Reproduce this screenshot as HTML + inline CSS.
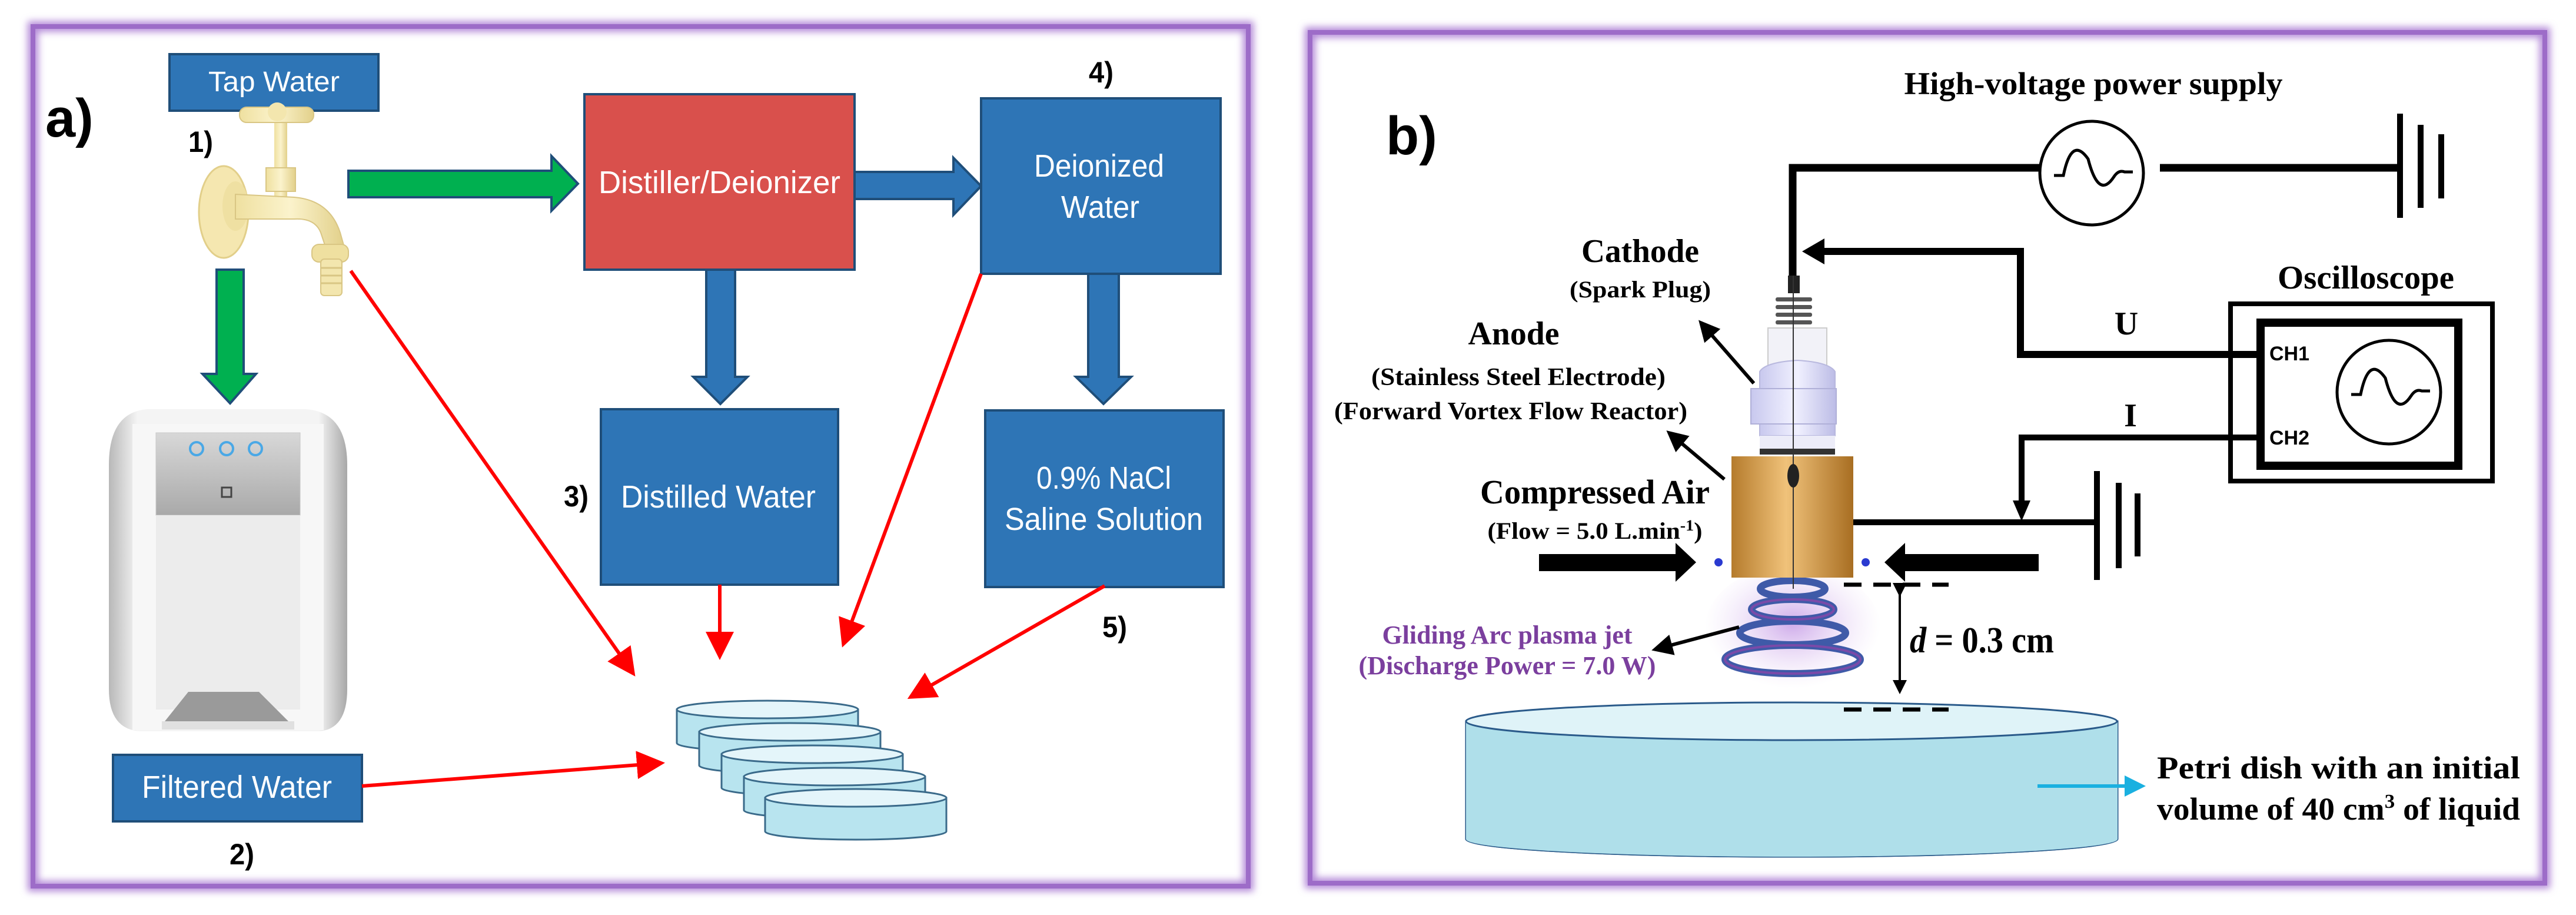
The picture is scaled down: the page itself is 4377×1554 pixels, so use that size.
<!DOCTYPE html>
<html><head><meta charset="utf-8"><style>
html,body{margin:0;padding:0;background:#fff}
svg{display:block}
</style></head><body>
<svg width="4377" height="1554" viewBox="0 0 4377 1554" xmlns="http://www.w3.org/2000/svg">
<defs>
<filter id="glow" x="-5%" y="-5%" width="110%" height="110%"><feGaussianBlur stdDeviation="6"/></filter>
<radialGradient id="plasma" cx="50%" cy="45%" r="50%"><stop offset="0" stop-color="#c9a2e8" stop-opacity="0.9"/><stop offset="1" stop-color="#e8d6f5" stop-opacity="0"/></radialGradient>
<linearGradient id="bronze" x1="0" x2="1"><stop offset="0" stop-color="#b57b2c"/><stop offset="0.45" stop-color="#f0c27a"/><stop offset="1" stop-color="#a86e22"/></linearGradient>
<linearGradient id="brass" x1="0" x2="1"><stop offset="0" stop-color="#efe0a0"/><stop offset="0.5" stop-color="#fbf3cc"/><stop offset="1" stop-color="#e2d08a"/></linearGradient>
<linearGradient id="lav" x1="0" x2="1"><stop offset="0" stop-color="#c8c8ee"/><stop offset="0.5" stop-color="#f1f1ff"/><stop offset="1" stop-color="#bcbce6"/></linearGradient>
<linearGradient id="filt" x1="0" x2="1"><stop offset="0" stop-color="#b8b8b8"/><stop offset="0.12" stop-color="#f4f4f4"/><stop offset="0.88" stop-color="#f4f4f4"/><stop offset="1" stop-color="#a8a8a8"/></linearGradient>
<linearGradient id="silver" x1="0" y1="0" x2="0" y2="1"><stop offset="0" stop-color="#d8d8d8"/><stop offset="1" stop-color="#a9a9a9"/></linearGradient>
<marker id="ra" markerWidth="8" markerHeight="8" refX="7" refY="4" orient="auto" markerUnits="strokeWidth"><path d="M0,0 L8,4 L0,8 Z" fill="#ff0000"/></marker>
<marker id="ka" markerWidth="6" markerHeight="6" refX="5" refY="3" orient="auto" markerUnits="strokeWidth"><path d="M0,0 L6,3 L0,6 Z" fill="#000"/></marker>
<marker id="ca" markerWidth="6" markerHeight="6" refX="5" refY="3" orient="auto" markerUnits="strokeWidth"><path d="M0,0 L6,3 L0,6 Z" fill="#1ab0e0"/></marker>
</defs>

<!-- Panel borders -->
<rect x="56" y="45" width="2065" height="1460" fill="none" stroke="#b48ad8" stroke-width="18" filter="url(#glow)"/>
<rect x="56" y="45" width="2065" height="1460" fill="none" stroke="#9d6cc8" stroke-width="8"/>
<rect x="2226" y="55" width="2098" height="1445" fill="none" stroke="#b48ad8" stroke-width="18" filter="url(#glow)"/>
<rect x="2226" y="55" width="2098" height="1445" fill="none" stroke="#9d6cc8" stroke-width="8"/>

<!-- ===== LEFT PANEL ===== -->
<g font-family="Liberation Sans, sans-serif">
<text x="77" y="232" font-size="92" font-weight="bold">a)</text>

<rect x="288" y="92" width="355" height="96" fill="#2e75b6" stroke="#1f4e79" stroke-width="4"/>
<text x="354" y="155" font-size="48" fill="#fff" textLength="223" lengthAdjust="spacingAndGlyphs">Tap Water</text>
<text x="320" y="258" font-size="50" font-weight="bold" textLength="42" lengthAdjust="spacingAndGlyphs">1)</text>

<!-- faucet -->
<g>
<rect x="466" y="190" width="22" height="160" fill="url(#brass)"/>
<rect x="407" y="182" width="126" height="26" rx="12" fill="url(#brass)" stroke="#d9c684" stroke-width="2"/>
<circle cx="471" cy="190" r="16" fill="#f3e6ae"/>
<rect x="452" y="285" width="50" height="40" fill="url(#brass)" stroke="#d9c684" stroke-width="2"/>
<ellipse cx="380" cy="360" rx="42" ry="78" fill="#f5e7b0" stroke="#e2cf8a" stroke-width="3"/>
<ellipse cx="400" cy="350" rx="22" ry="42" fill="#efe0a2"/>
<path d="M400,330 L500,335 Q560,340 578,395 L585,420 L555,425 L545,395 Q535,370 500,372 L400,372 Z" fill="url(#brass)" stroke="#d9c684" stroke-width="2"/>
<rect x="530" y="415" width="62" height="30" rx="12" fill="#efe0a0" stroke="#d9c684" stroke-width="2"/>
<rect x="545" y="440" width="36" height="62" rx="6" fill="#f3e6ae" stroke="#d9c684" stroke-width="2"/>
<path d="M545,455 H581 M545,468 H581 M545,481 H581" stroke="#d9c684" stroke-width="3"/>
</g>

<!-- green arrows -->
<path d="M592,290 H937 V265 L982,312 L937,358 V335 H592 Z" fill="#00b050" stroke="#1f4e79" stroke-width="4"/>
<path d="M368,458 H414 V635 H435 L391,685 L344,635 H368 Z" fill="#00b050" stroke="#1f4e79" stroke-width="4"/>

<!-- distiller -->
<rect x="993" y="160" width="459" height="298" fill="#d9504c" stroke="#1f4e79" stroke-width="4"/>
<text x="1017" y="328" font-size="54" fill="#fff" textLength="411" lengthAdjust="spacingAndGlyphs">Distiller/Deionizer</text>

<!-- blue arrows -->
<path d="M1452,292 H1620 V268 L1667,316 L1620,365 V338 H1452 Z" fill="#2e75b6" stroke="#1f4e79" stroke-width="4"/>
<path d="M1200,458 H1249 V640 H1270 L1224,686 L1178,640 H1200 Z" fill="#2e75b6" stroke="#1f4e79" stroke-width="4"/>
<path d="M1849,465 H1901 V640 H1922 L1875,686 L1828,640 H1849 Z" fill="#2e75b6" stroke="#1f4e79" stroke-width="4"/>

<!-- deionized -->
<rect x="1667" y="167" width="407" height="298" fill="#2e75b6" stroke="#1f4e79" stroke-width="4"/>
<text x="1757" y="300" font-size="54" fill="#fff" textLength="221" lengthAdjust="spacingAndGlyphs">Deionized</text>
<text x="1803" y="370" font-size="54" fill="#fff" textLength="133" lengthAdjust="spacingAndGlyphs">Water</text>
<text x="1850" y="140" font-size="50" font-weight="bold" textLength="42" lengthAdjust="spacingAndGlyphs">4)</text>

<!-- distilled -->
<rect x="1021" y="695" width="403" height="298" fill="#2e75b6" stroke="#1f4e79" stroke-width="4"/>
<text x="1055" y="862" font-size="54" fill="#fff" textLength="331" lengthAdjust="spacingAndGlyphs">Distilled Water</text>
<text x="958" y="860" font-size="50" font-weight="bold" textLength="42" lengthAdjust="spacingAndGlyphs">3)</text>

<!-- NaCl -->
<rect x="1674" y="697" width="405" height="300" fill="#2e75b6" stroke="#1f4e79" stroke-width="4"/>
<text x="1761" y="830" font-size="54" fill="#fff" textLength="229" lengthAdjust="spacingAndGlyphs">0.9% NaCl</text>
<text x="1707" y="900" font-size="54" fill="#fff" textLength="337" lengthAdjust="spacingAndGlyphs">Saline Solution</text>
<text x="1873" y="1082" font-size="50" font-weight="bold" textLength="42" lengthAdjust="spacingAndGlyphs">5)</text>

<!-- water filter -->
<g>
<path d="M250,695 H520 Q590,700 590,790 V1170 Q590,1240 540,1242 H240 Q185,1240 185,1170 V790 Q185,700 250,695 Z" fill="url(#filt)"/>
<rect x="225" y="720" width="325" height="520" fill="#f7f7f7"/>
<rect x="265" y="735" width="245" height="140" fill="url(#silver)" stroke="#c8c8c8"/>
<circle cx="334" cy="762" r="11" fill="none" stroke="#4aa8e6" stroke-width="4"/>
<circle cx="385" cy="762" r="11" fill="none" stroke="#4aa8e6" stroke-width="4"/>
<circle cx="434" cy="762" r="11" fill="none" stroke="#4aa8e6" stroke-width="4"/>
<rect x="377" y="828" width="16" height="16" fill="none" stroke="#444" stroke-width="3"/>
<rect x="265" y="875" width="245" height="330" fill="#ececec"/>
<path d="M280,1225 L320,1175 H440 L490,1225 Z" fill="#9a9a9a"/>
<rect x="275" y="1225" width="225" height="14" fill="#e0e0e0"/>
</g>

<rect x="192" y="1282" width="423" height="113" fill="#2e75b6" stroke="#1f4e79" stroke-width="4"/>
<text x="241" y="1355" font-size="54" fill="#fff" textLength="323" lengthAdjust="spacingAndGlyphs">Filtered Water</text>
<text x="390" y="1468" font-size="50" font-weight="bold" textLength="42" lengthAdjust="spacingAndGlyphs">2)</text>

<!-- petri stack -->
<g stroke="#3a6a8a" stroke-width="3" fill="#b8e4ef">
<g transform="translate(0,0)"><path d="M1150,1205 V1262 A154,14 0 0 0 1458,1262 V1205 Z"/><ellipse cx="1304" cy="1205" rx="154" ry="15" fill="#e4f5fa"/></g>
<g transform="translate(38,38)"><path d="M1150,1205 V1262 A154,14 0 0 0 1458,1262 V1205 Z"/><ellipse cx="1304" cy="1205" rx="154" ry="15" fill="#e4f5fa"/></g>
<g transform="translate(76,76)"><path d="M1150,1205 V1262 A154,14 0 0 0 1458,1262 V1205 Z"/><ellipse cx="1304" cy="1205" rx="154" ry="15" fill="#e4f5fa"/></g>
<g transform="translate(114,114)"><path d="M1150,1205 V1262 A154,14 0 0 0 1458,1262 V1205 Z"/><ellipse cx="1304" cy="1205" rx="154" ry="15" fill="#e4f5fa"/></g>
<g transform="translate(150,150)"><path d="M1150,1205 V1262 A154,14 0 0 0 1458,1262 V1205 Z"/><ellipse cx="1304" cy="1205" rx="154" ry="15" fill="#e4f5fa"/></g>
</g>

<!-- red arrows -->
<g stroke="#ff0000" stroke-width="6" fill="none" marker-end="url(#ra)">
<line x1="596" y1="460" x2="1076" y2="1144"/>
<line x1="1223" y1="993" x2="1223" y2="1115"/>
<line x1="1667" y1="465" x2="1433" y2="1094"/>
<line x1="1877" y1="995" x2="1547" y2="1184"/>
<line x1="615" y1="1335" x2="1124" y2="1296"/>
</g>
</g>

<!-- ===== RIGHT PANEL ===== -->
<g font-family="Liberation Serif, serif" font-weight="bold">
<text x="2355" y="262" font-size="92" font-family="Liberation Sans, sans-serif">b)</text>
<text x="3557" y="160" font-size="54" text-anchor="middle" textLength="643" lengthAdjust="spacingAndGlyphs">High-voltage power supply</text>

<g stroke="#000" fill="none">
<!-- top circuit -->
<polyline points="3466,285 3046,285 3046,468" stroke-width="13"/>
<circle cx="3554" cy="294" r="88" stroke-width="5"/>
<path d="M3490,298 H3506 Q3520,230 3548,270 Q3566,340 3592,300 Q3600,288 3610,292 H3624" stroke-width="5"/>
<line x1="3670" y1="285" x2="4078" y2="285" stroke-width="13"/>
<line x1="4078" y1="193" x2="4078" y2="370" stroke-width="10"/>
<line x1="4113" y1="212" x2="4113" y2="353" stroke-width="10"/>
<line x1="4148" y1="228" x2="4148" y2="337" stroke-width="10"/>
<!-- U line -->
<polyline points="3841,602 3433,602 3433,427 3090,427" stroke-width="12"/>
<!-- I line -->
<polyline points="3841,743 3435,743 3435,860" stroke-width="10"/>
<!-- oscilloscope -->
<rect x="3790" y="516" width="445" height="301" stroke-width="8"/>
<rect x="3841" y="548" width="336" height="243" stroke-width="14"/>
<circle cx="4059" cy="666" r="88" stroke-width="5"/>
<path d="M3995,670 H4011 Q4025,602 4053,642 Q4071,712 4097,672 Q4105,660 4115,664 H4129" stroke-width="5"/>
<!-- lower ground -->
<line x1="3149" y1="887" x2="3563" y2="887" stroke-width="10"/>
<line x1="3563" y1="800" x2="3563" y2="985" stroke-width="10"/>
<line x1="3600" y1="820" x2="3600" y2="965" stroke-width="10"/>
<line x1="3632" y1="838" x2="3632" y2="945" stroke-width="10"/>
</g>
<path d="M3062,427 L3100,405 L3100,449 Z" fill="#000"/>
<path d="M3435,885 L3420,850 L3450,850 Z" fill="#000"/>

<text x="4020" y="490" font-size="56" text-anchor="middle" textLength="300" lengthAdjust="spacingAndGlyphs">Oscilloscope</text>
<text x="3613" y="568" font-size="56" text-anchor="middle">U</text>
<text x="3620" y="724" font-size="56" text-anchor="middle">I</text>
<text x="3856" y="612" font-size="34" font-family="Liberation Sans, sans-serif">CH1</text>
<text x="3856" y="755" font-size="34" font-family="Liberation Sans, sans-serif">CH2</text>

<!-- plasma glow + coil -->
<ellipse cx="3046" cy="1070" rx="150" ry="110" fill="url(#plasma)"/>
<g fill="none" stroke="#3f5aa8" stroke-width="12">
<ellipse cx="3046" cy="1000" rx="55" ry="14"/>
<ellipse cx="3046" cy="1035" rx="70" ry="17"/>
<ellipse cx="3046" cy="1075" rx="90" ry="20"/>
<ellipse cx="3046" cy="1120" rx="115" ry="24"/>
</g>
<g fill="none" stroke="#7a4aa8" stroke-width="4">
<ellipse cx="3046" cy="1035" rx="70" ry="17"/>
<ellipse cx="3046" cy="1120" rx="115" ry="24"/>
</g>

<!-- spark plug -->
<rect x="3004" y="557" width="100" height="80" fill="#f2f2f8" stroke="#ccc" stroke-width="2"/>
<g fill="#555">
<rect x="3017" y="505" width="62" height="7" rx="3"/><rect x="3017" y="518" width="62" height="7" rx="3"/><rect x="3017" y="531" width="62" height="7" rx="3"/><rect x="3017" y="544" width="62" height="7" rx="3"/>
</g>
<rect x="3038" y="468" width="20" height="30" fill="#222"/>
<path d="M2990,631 Q3000,615 3054,612 Q3108,615 3118,631 V740 H2990 Z" fill="url(#lav)" stroke="#b8b8de" stroke-width="2"/>
<rect x="2975" y="660" width="145" height="60" fill="url(#lav)" stroke="#b0b0d8" stroke-width="2"/>
<rect x="2990" y="740" width="128" height="32" fill="#ececf8"/>
<rect x="2990" y="762" width="128" height="10" fill="#333"/>
<rect x="2942" y="775" width="207" height="206" fill="url(#bronze)"/>
<line x1="3047" y1="468" x2="3047" y2="1000" stroke="#333" stroke-width="2"/>
<ellipse cx="3047" cy="808" rx="10" ry="20" fill="#222"/>
<circle cx="2920" cy="955" r="7" fill="#2a3ad0"/><circle cx="3170" cy="955" r="7" fill="#2a3ad0"/>

<!-- air arrows -->
<path d="M2615,941 H2847 V922 L2882,955 L2847,988 V970 H2615 Z" fill="#000"/>
<path d="M3464,941 H3237 V922 L3202,955 L3237,988 V970 H3464 Z" fill="#000"/>

<!-- label arrows -->
<g stroke="#000" stroke-width="6" marker-end="url(#ka)" fill="none">
<line x1="2980" y1="651" x2="2890" y2="548"/>
<line x1="2930" y1="814" x2="2836" y2="735"/>
<line x1="2955" y1="1065" x2="2812" y2="1103"/>
</g>

<!-- labels -->
<text x="2787" y="445" font-size="56" text-anchor="middle" textLength="200" lengthAdjust="spacingAndGlyphs">Cathode</text>
<text x="2787" y="505" font-size="40" text-anchor="middle" textLength="240" lengthAdjust="spacingAndGlyphs">(Spark Plug)</text>
<text x="2572" y="585" font-size="56" text-anchor="middle" textLength="155" lengthAdjust="spacingAndGlyphs">Anode</text>
<text x="2580" y="654" font-size="42" text-anchor="middle" textLength="500" lengthAdjust="spacingAndGlyphs">(Stainless Steel Electrode)</text>
<text x="2567" y="712" font-size="42" text-anchor="middle" textLength="600" lengthAdjust="spacingAndGlyphs">(Forward Vortex Flow Reactor)</text>
<text x="2710" y="855" font-size="58" text-anchor="middle" textLength="390" lengthAdjust="spacingAndGlyphs">Compressed Air</text>
<text x="2710" y="915" font-size="40" text-anchor="middle" textLength="365" lengthAdjust="spacingAndGlyphs">(Flow = 5.0 L.min<tspan font-size="26" dy="-14">-1</tspan><tspan dy="14">)</tspan></text>
<text x="2561" y="1093" font-size="44" text-anchor="middle" fill="#7b3f9e" textLength="425" lengthAdjust="spacingAndGlyphs">Gliding Arc plasma jet</text>
<text x="2561" y="1145" font-size="44" text-anchor="middle" fill="#7b3f9e" textLength="505" lengthAdjust="spacingAndGlyphs">(Discharge Power = 7.0 W)</text>

<!-- petri dish -->
<path d="M2491,1225 V1425 A553,30 0 0 0 3598,1425 V1225 Z" fill="#afdfea" stroke="#2a5a8a" stroke-width="3"/>
<ellipse cx="3044" cy="1425" rx="553" ry="30" fill="#7ccde0" stroke="#2a5a8a" stroke-width="3"/>
<path d="M2491,1225 V1425 A553,30 0 0 0 3598,1425 V1225 Z" fill="#afdfea" stroke="none"/>
<ellipse cx="3044" cy="1225" rx="553" ry="32" fill="#dff3f8" stroke="#2a5a8a" stroke-width="3"/>

<!-- dashed + distance -->
<g stroke="#000" stroke-width="7" stroke-dasharray="30,20">
<line x1="3133" y1="993" x2="3311" y2="993"/>
<line x1="3133" y1="1205" x2="3311" y2="1205"/>
</g>
<line x1="3228" y1="1010" x2="3228" y2="1175" stroke="#000" stroke-width="4" marker-start="url(#ka)" marker-end="url(#ka)"/>
<text x="3245" y="1108" font-size="62" textLength="245" lengthAdjust="spacingAndGlyphs"><tspan font-style="italic">d</tspan> = 0.3 cm</text>

<line x1="3462" y1="1335" x2="3640" y2="1335" stroke="#1ab0e0" stroke-width="6" marker-end="url(#ca)"/>
<text x="3665" y="1322" font-size="54" textLength="617" lengthAdjust="spacingAndGlyphs">Petri dish with an initial</text>
<text x="3665" y="1392" font-size="54" textLength="617" lengthAdjust="spacingAndGlyphs">volume of 40 cm<tspan font-size="34" dy="-20">3</tspan><tspan dy="20"> of liquid</tspan></text>
</g>
</svg>
</body></html>
